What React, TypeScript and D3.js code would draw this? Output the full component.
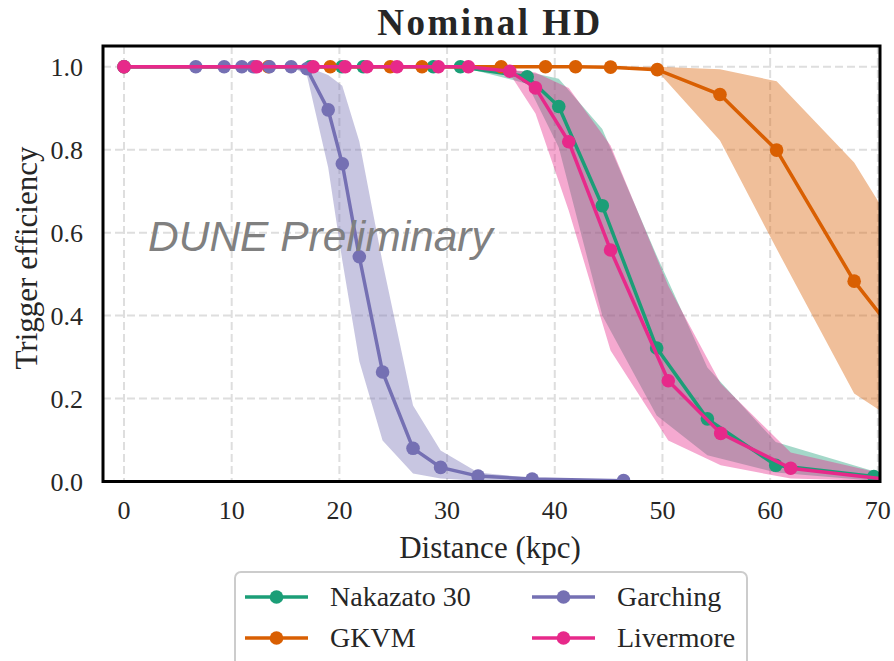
import React from "react";
import * as d3 from "d3";

// distances (kpc) and trigger efficiency
const nakazatoDist = [0, 17.29, 20.24, 22.22, 28.73, 31.24, 37.44, 40.37, 44.41, 49.46, 54.17, 60.52, 69.63];
const nakazatoEff = [1, 1, 1, 1, 1, 1, 0.976, 0.904, 0.665, 0.322, 0.151, 0.039, 0.012];
const nakazatoLo = [1, 1, 1, 1, 1, 1, 0.959, 0.805, 0.4, 0.159, 0.063, 0.022, 0.002];
const nakazatoHi = [1, 1, 1, 1, 1, 1, 0.988, 0.971, 0.85, 0.545, 0.275, 0.095, 0.025];

const gkvmDist = [0, 13.41, 19.15, 24.73, 27.67, 35.02, 39.14, 41.93, 45.18, 49.52, 55.34, 60.6, 67.8, 75.0];
const gkvmEff = [1, 1, 1, 1, 1, 1, 1, 1, 0.999, 0.993, 0.933, 0.799, 0.483, 0.245];
const gkvmLo = [1, 1, 1, 1, 1, 1, 1, 1, 0.998, 0.99, 0.822, 0.561, 0.212, 0.09];
const gkvmHi = [1, 1, 1, 1, 1, 1, 1, 1, 1, 1, 0.994, 0.965, 0.769, 0.467];

const garchingDist = [0, 6.67, 9.3, 10.94, 12.0, 13.5, 15.52, 16.98, 18.96, 20.27, 21.85, 24.01, 26.84, 29.4, 32.88, 37.9, 46.39];
const garchingEff = [1, 1, 1, 1, 1, 1, 1, 0.995, 0.896, 0.766, 0.542, 0.264, 0.08, 0.034, 0.013, 0.006, 0.002];
const garchingLo = [1, 1, 1, 1, 1, 1, 1, 0.98, 0.757, 0.533, 0.29, 0.099, 0.019, 0.007, 0.002, 0, 0];
const garchingHi = [1, 1, 1, 1, 1, 1, 1, 1, 0.98, 0.954, 0.82, 0.528, 0.183, 0.075, 0.022, 0.008, 0.004];

const livermoreDist = [0, 12.34, 17.57, 20.54, 22.56, 25.35, 29.19, 31.98, 35.82, 38.21, 41.3, 45.18, 50.54, 55.41, 61.91, 72.0];
const livermoreEff = [1, 1, 1, 1, 1, 1, 1, 1, 0.989, 0.949, 0.819, 0.558, 0.243, 0.116, 0.032, 0.002];
const livermoreLo = [1, 1, 1, 1, 1, 1, 1, 1, 0.983, 0.887, 0.653, 0.316, 0.099, 0.039, 0.007, 0];
const livermoreHi = [1, 1, 1, 1, 1, 1, 1, 1, 0.993, 0.986, 0.949, 0.81, 0.472, 0.236, 0.07, 0.01];

const xTicks = [0, 10, 20, 30, 40, 50, 60, 70];
const yTicks = [0, 0.2, 0.4, 0.6, 0.8, 1.0];

const series = [
  { name: "Nakazato 30", color: "#1b9e77", dist: nakazatoDist, eff: nakazatoEff, lo: nakazatoLo, hi: nakazatoHi },
  { name: "GKVM", color: "#d95f02", dist: gkvmDist, eff: gkvmEff, lo: gkvmLo, hi: gkvmHi },
  { name: "Garching", color: "#7570b3", dist: garchingDist, eff: garchingEff, lo: garchingLo, hi: garchingHi },
  { name: "Livermore", color: "#e7298a", dist: livermoreDist, eff: livermoreEff, lo: livermoreLo, hi: livermoreHi },
];

const serif = "'Liberation Serif', 'Times New Roman', serif";

export default function App() {
  const left = 103, right = 880, top = 46, bottom = 481.5;
  const x = d3.scaleLinear().domain([-1.95, 70.2]).range([left, right]);
  const y = d3.scaleLinear().domain([0, 1.05]).range([bottom, top]);

  const line = d3.line<[number, number]>().x(d => x(d[0])).y(d => y(d[1]));
  const area = d3.area<[number, number, number]>()
    .x(d => x(d[0])).y0(d => y(d[1])).y1(d => y(d[2]));

  // legend layout: two columns, two rows (matplotlib fills column-wise)
  const legendPos = [
    { hx: 245, ty: 597 },
    { hx: 245, ty: 638 },
    { hx: 532, ty: 597 },
    { hx: 532, ty: 638 },
  ];

  return (
    <svg width={894} height={661} style={{ position: "absolute", left: 0, top: 0, background: "#fff" }}>
      <defs>
        <clipPath id="plot">
          <rect x={left} y={top} width={right - left} height={bottom - top} />
        </clipPath>
      </defs>

      {/* grid */}
      <g stroke="#dedede" strokeWidth={2} strokeDasharray="8,4">
        {xTicks.map(t => (
          <line key={"gx" + t} x1={x(t)} x2={x(t)} y1={top} y2={bottom} />
        ))}
        {yTicks.map(t => (
          <line key={"gy" + t} x1={left} x2={right} y1={y(t)} y2={y(t)} />
        ))}
      </g>

      <g clipPath="url(#plot)">
        {/* uncertainty bands */}
        {series.map(s => (
          <path key={"b" + s.name} d={area(s.dist.map((d, i) => [d, s.lo[i], s.hi[i]] as [number, number, number])) || ""}
            fill={s.color} fillOpacity={0.4} stroke="none" />
        ))}
        {/* lines + markers */}
        {series.map(s => (
          <g key={"l" + s.name}>
            <path d={line(s.dist.map((d, i) => [d, s.eff[i]] as [number, number])) || ""}
              fill="none" stroke={s.color} strokeWidth={3.5} />
            {s.dist.map((d, i) => (
              <circle key={i} cx={x(d)} cy={y(s.eff[i])} r={6.8} fill={s.color} />
            ))}
          </g>
        ))}
      </g>

      {/* frame */}
      <rect x={left} y={top} width={right - left} height={bottom - top} fill="none" stroke="#000" strokeWidth={3} />

      {/* tick labels */}
      <g fontFamily={serif} fontSize={26} fill="#262626">
        {xTicks.map(t => (
          <text key={"tx" + t} x={x(t)} y={519} textAnchor="middle">{t}</text>
        ))}
        {yTicks.map(t => (
          <text key={"ty" + t} x={83} y={y(t) + 9} textAnchor="end">{t.toFixed(1)}</text>
        ))}
      </g>

      {/* axis labels and title */}
      <text x={490} y={558} textAnchor="middle" fontFamily={serif} fontSize={31} fill="#262626">Distance (kpc)</text>
      <text transform="translate(37,258) rotate(-90)" textAnchor="middle" fontFamily={serif} fontSize={31} fill="#262626">Trigger efficiency</text>
      <text x={490} y={35} textAnchor="middle" fontFamily={serif} fontSize={37} fontWeight="bold" letterSpacing={2.5} fill="#262626">Nominal HD</text>

      <text x={148} y={251} fontFamily="'Liberation Sans', Arial, sans-serif" fontStyle="italic" fontSize={42.5} fill="#808080">DUNE Preliminary</text>

      {/* legend */}
      <rect x={235} y={572} width={512} height={110} rx={6} fill="#fff" stroke="#cccccc" strokeWidth={2} />
      {series.map((s, i) => {
        const p = legendPos[i];
        return (
          <g key={"lg" + s.name}>
            <line x1={p.hx} x2={p.hx + 63} y1={p.ty} y2={p.ty} stroke={s.color} strokeWidth={3.5} />
            <circle cx={p.hx + 31.5} cy={p.ty} r={6.8} fill={s.color} />
            <text x={p.hx + 85} y={p.ty + 9} fontFamily={serif} fontSize={28} fill="#262626">{s.name}</text>
          </g>
        );
      })}
    </svg>
  );
}
